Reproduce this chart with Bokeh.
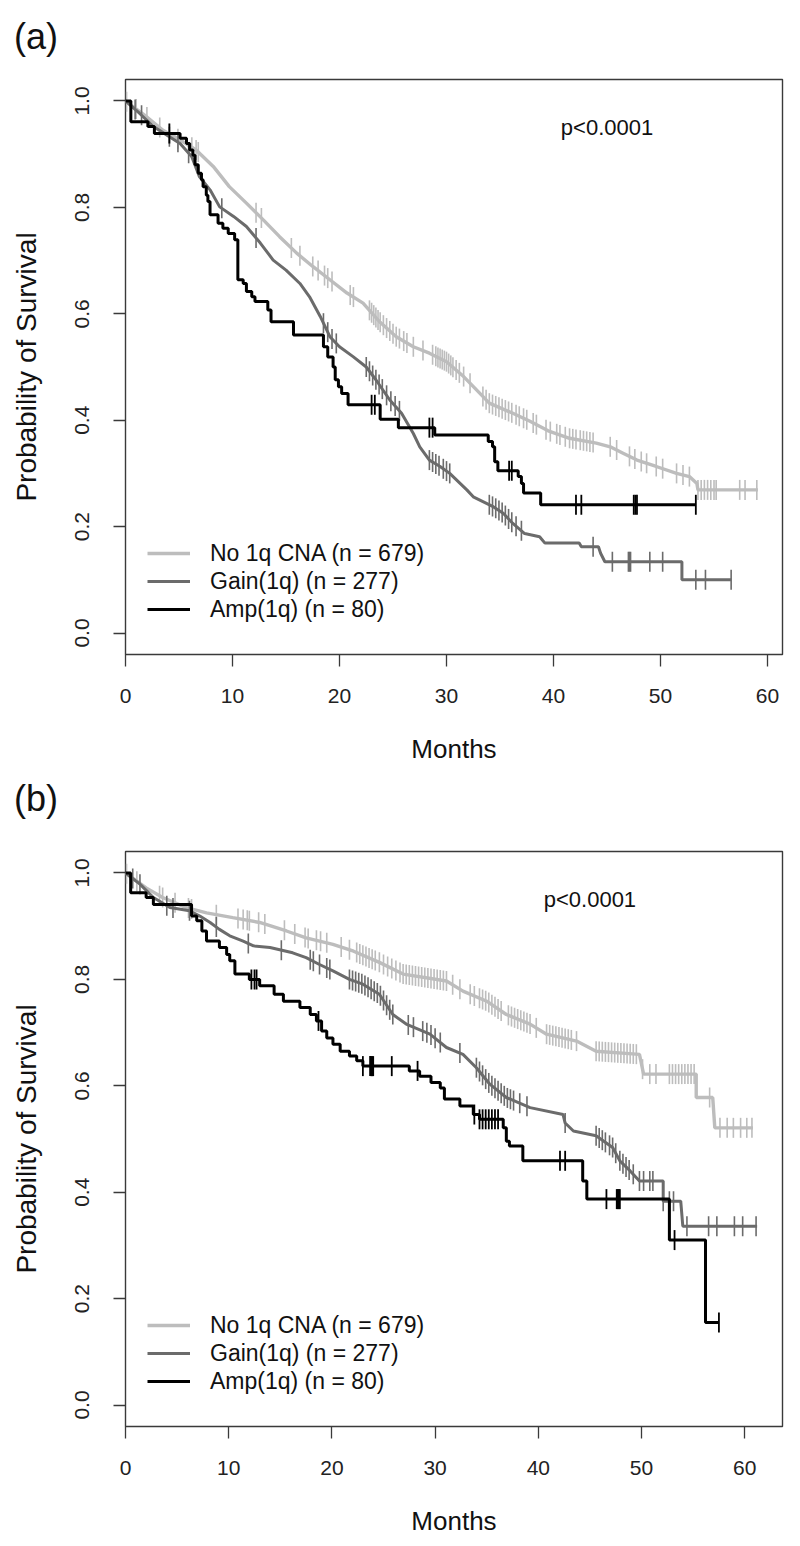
import numpy as np
from bokeh.plotting import figure
from bokeh.models import Range1d, FixedTicker, PrintfTickFormatter, Legend, LegendItem, Label, Div
from bokeh.layouts import column
from bokeh.embed import file_html
from bokeh.resources import INLINE

FONT = "Liberation Sans"
LIGHT = "#bdbdbd"
DARK = "#6b6b6b"
BLACK = "#000000"
BOX = "#3a3a3a"

series_labels = ["No 1q CNA (n = 679)", "Gain(1q) (n = 277)", "Amp(1q) (n = 80)"]
x_ticks = [0, 10, 20, 30, 40, 50, 60]
y_ticks = [0.0, 0.2, 0.4, 0.6, 0.8, 1.0]
p_text = "p<0.0001"
panel_tags = ["(a)", "(b)"]

# ---------------- panel (a) ----------------
a_light_t = [0, 2.0, 3.5, 5.1, 6.6, 8.2, 9.7, 11.3, 12.9, 14.4, 16.0, 17.5, 19.1, 20.7, 22.2, 23.8,
             25.3, 26.9, 28.4, 30.0, 31.6, 33.1, 34.0, 36.2, 37.8, 39.5, 41.5, 44.0, 45.3, 46.5,
             47.8, 49.6, 51.5, 52.7, 53.4, 53.5, 59.1]
a_light_s = [1.0, 0.970, 0.945, 0.927, 0.908, 0.877, 0.839, 0.808, 0.776, 0.745, 0.714, 0.689, 0.664,
             0.639, 0.620, 0.584, 0.557, 0.538, 0.526, 0.510, 0.482, 0.451, 0.432, 0.413, 0.398, 0.380,
             0.366, 0.357, 0.350, 0.338, 0.325, 0.313, 0.300, 0.294, 0.281, 0.269, 0.269]
a_light_cens = [0.1, 1.0, 2.0, 3.2, 4.1, 4.9, 6.2, 6.6, 6.8, 12.2, 12.7, 15.5, 16.3, 17.5, 18.0, 18.6,
                18.9, 19.3, 21.0, 21.3, 22.8, 23.0, 23.2, 23.4, 23.6, 23.8, 24.1, 24.4, 24.7, 25.0,
                25.3, 25.6, 26.0, 26.3, 26.9, 27.8, 28.7, 29.0, 29.2, 29.4, 29.6, 29.8, 30.0, 30.2,
                30.4, 30.6, 30.9, 31.2, 31.6, 32.2, 33.4, 33.7, 34.0, 34.3, 34.6, 34.9, 35.2, 35.5,
                35.8, 36.1, 36.5, 36.8, 37.2, 37.5, 38.1, 38.4, 39.3, 39.7, 40.3, 40.6, 41.1, 41.5,
                41.8, 42.1, 42.5, 42.8, 43.1, 43.4, 43.7, 45.3, 45.9, 47.1, 47.6, 48.2, 48.7, 49.6,
                50.2, 51.5, 52.1, 52.7, 53.5, 53.8, 54.1, 54.4, 54.7, 55.0, 55.2, 57.4, 57.9, 59.0]

a_dark_t = [0, 1.3, 2.6, 4.1, 5.1, 6.2, 6.9, 7.9, 8.8, 10.1, 11.3, 12.6, 13.8, 15.0, 16.3, 17.2, 18.2,
            19.1, 20.0, 21.3, 22.5, 23.4, 24.7, 25.8, 26.9, 27.5, 28.4, 29.4, 30.3, 31.9, 32.5, 34.4,
            35.3, 36.2, 37.3, 38.7, 39.2, 42.4, 42.6, 44.2, 44.4, 44.8, 52.0, 52.0, 56.6]
a_dark_s = [1.0, 0.977, 0.952, 0.933, 0.920, 0.895, 0.858, 0.833, 0.801, 0.783, 0.764, 0.733, 0.701,
            0.682, 0.657, 0.632, 0.595, 0.557, 0.538, 0.519, 0.500, 0.476, 0.438, 0.413, 0.375, 0.350,
            0.325, 0.313, 0.300, 0.269, 0.256, 0.237, 0.225, 0.206, 0.187, 0.181, 0.169, 0.169, 0.162,
            0.162, 0.150, 0.134, 0.134, 0.100, 0.100]
a_dark_cens = [0.9, 1.5, 4.1, 4.9, 5.9, 9.0, 12.2, 18.5, 18.9, 19.3, 19.7, 22.5, 22.8, 23.1, 23.4,
               23.7, 24.0, 24.4, 24.8, 25.2, 25.6, 28.4, 28.7, 29.0, 29.3, 29.7, 30.0, 30.3, 34.0,
               34.3, 34.6, 34.9, 35.2, 35.5, 35.8, 36.1, 36.5, 37.0, 43.7, 45.5, 47.0, 47.1, 47.2,
               49.0, 50.2, 53.3, 54.2, 56.6]

a_amp_t = [0, 0.5, 2.1, 2.7, 5.1, 5.7, 6.0, 6.3, 6.5, 6.8, 7.1, 7.25, 7.55, 7.7, 7.9, 8.65, 9.1, 9.6,
           10.2, 10.5, 11.0, 11.3, 11.8, 12.1, 13.3, 13.6, 15.7, 18.5, 18.9, 19.4, 19.6, 19.9, 20.2,
           20.8, 23.8, 25.5, 28.9, 33.9, 34.3, 34.5, 34.8, 36.7, 37.0, 37.2, 38.8, 53.3]
a_amp_s = [1.0, 0.961, 0.952, 0.939, 0.930, 0.920, 0.908, 0.898, 0.880, 0.864, 0.852, 0.839, 0.823,
           0.811, 0.786, 0.770, 0.761, 0.751, 0.739, 0.664, 0.657, 0.642, 0.632, 0.623, 0.607, 0.585,
           0.560, 0.538, 0.519, 0.500, 0.476, 0.463, 0.450, 0.429, 0.402, 0.386, 0.372, 0.360, 0.350,
           0.322, 0.305, 0.294, 0.281, 0.263, 0.241, 0.241]
a_amp_cens = [4.1, 23.0, 23.3, 28.4, 28.7, 35.85, 36.1, 42.1, 42.6, 47.5, 47.65, 47.8, 53.3]

# ---------------- panel (b) ----------------
b_light_t = [0, 2.0, 3.6, 5.9, 7.85, 10.4, 13.0, 15.6, 17.5, 20.1, 22.1, 24.6, 26.9, 31.1, 32.7, 35.0,
             36.9, 39.2, 40.8, 43.7, 45.6, 49.8, 50.2, 55.3, 55.3, 56.9, 57.1, 60.8]
b_light_s = [1.0, 0.972, 0.954, 0.935, 0.925, 0.916, 0.907, 0.891, 0.878, 0.866, 0.853, 0.832, 0.810,
             0.797, 0.778, 0.759, 0.734, 0.716, 0.697, 0.684, 0.665, 0.659, 0.622, 0.622, 0.578, 0.578,
             0.521, 0.521]
b_light_cens = [0.1, 1.1, 3.3, 3.6, 4.8, 6.1, 6.4, 8.8, 10.9, 11.4, 11.8, 12.0, 12.9, 13.5, 15.4, 16.4,
                17.4, 17.7, 18.5, 18.9, 19.5, 20.9, 21.7, 22.4, 22.7, 23.0, 23.3, 23.6, 23.9, 24.2,
                24.6, 25.0, 25.4, 25.8, 26.2, 26.6, 26.9, 27.2, 27.5, 27.8, 28.1, 28.4, 28.7, 29.0,
                29.3, 29.6, 29.9, 30.2, 30.5, 30.8, 31.1, 31.7, 32.4, 33.4, 33.8, 34.3, 34.6, 34.9,
                35.2, 35.5, 35.8, 36.1, 36.4, 37.1, 37.4, 37.7, 38.0, 38.3, 38.6, 38.9, 39.2, 39.8,
                40.8, 41.1, 41.4, 41.7, 42.0, 42.3, 42.6, 42.9, 43.2, 43.7, 45.6, 45.9, 46.2, 46.5,
                46.8, 47.1, 47.4, 47.7, 48.0, 48.3, 48.6, 48.9, 49.2, 49.5, 50.1, 50.8, 51.4, 52.7,
                53.0, 53.3, 53.6, 53.9, 54.2, 54.5, 54.8, 55.1, 56.6, 57.6, 58.3, 58.9, 59.6, 60.2, 60.7]

b_dark_t = [0, 1.4, 2.7, 4.3, 6.2, 7.2, 8.2, 9.1, 10.1, 11.4, 12.4, 14.0, 16.2, 17.5, 18.8, 20.1, 21.7,
            23.0, 24.6, 25.9, 27.2, 29.5, 31.1, 32.7, 34.0, 35.3, 36.9, 39.2, 42.4, 42.6, 43.4, 45.6,
            47.2, 47.9, 48.9, 49.8, 52.1, 52.1, 53.8, 54.0, 61.2]
b_dark_s = [1.0, 0.979, 0.954, 0.935, 0.929, 0.919, 0.907, 0.894, 0.882, 0.872, 0.863, 0.860, 0.850,
            0.841, 0.828, 0.816, 0.800, 0.791, 0.772, 0.734, 0.716, 0.697, 0.672, 0.659, 0.634, 0.603,
            0.578, 0.559, 0.546, 0.530, 0.515, 0.506, 0.484, 0.459, 0.440, 0.421, 0.421, 0.383, 0.383,
            0.336, 0.336]
b_dark_cens = [0.7, 1.4, 4.0, 4.6, 6.2, 8.8, 11.9, 15.1, 17.9, 18.2, 18.8, 19.5, 19.8, 21.7, 22.0,
               22.3, 22.6, 22.9, 23.2, 23.5, 23.8, 24.1, 24.4, 24.7, 25.0, 25.3, 25.6, 25.9, 27.4,
               27.9, 28.8, 29.2, 29.6, 30.0, 30.5, 32.4, 34.0, 34.3, 34.6, 34.9, 35.2, 35.5, 35.8,
               36.1, 36.4, 36.7, 37.0, 37.3, 37.6, 38.2, 38.9, 42.6, 45.6, 45.9, 46.2, 46.5, 46.9,
               47.2, 47.5, 47.9, 48.2, 48.5, 48.8, 49.2, 49.8, 50.2, 50.8, 51.1, 52.1, 52.7, 53.1,
               54.4, 56.5, 57.3, 59.0, 59.8, 61.1]

b_amp_t = [0, 0.5, 2.0, 2.7, 6.4, 6.9, 7.4, 7.85, 9.1, 9.8, 10.1, 10.6, 12.0, 13.0, 14.4, 15.3, 16.9,
           17.9, 18.5, 19.0, 19.5, 20.1, 20.8, 21.7, 22.4, 23.0, 27.5, 28.5, 29.6, 30.5, 30.9, 32.4,
           33.7, 34.3, 36.6, 36.9, 37.2, 38.5, 44.3, 44.7, 52.7, 56.2, 57.5]
b_amp_s = [1.0, 0.963, 0.954, 0.941, 0.919, 0.910, 0.891, 0.872, 0.860, 0.847, 0.835, 0.810, 0.800,
           0.788, 0.772, 0.759, 0.747, 0.734, 0.722, 0.703, 0.690, 0.678, 0.665, 0.656, 0.647, 0.637,
           0.628, 0.618, 0.606, 0.596, 0.575, 0.562, 0.546, 0.537, 0.521, 0.496, 0.487, 0.459, 0.421,
           0.387, 0.310, 0.155, 0.155]
b_amp_cens = [12.2, 12.5, 12.7, 18.7, 23.0, 23.7, 23.8, 23.9, 24.0, 25.8, 28.3, 33.8, 34.3, 34.6, 34.9,
              35.2, 35.5, 35.8, 36.1, 42.1, 42.6, 46.6, 47.6, 47.7, 47.8, 47.9, 53.2, 57.5]


def step_value(t, s, c):
    t = np.asarray(t); s = np.asarray(s)
    idx = np.searchsorted(t, c, side="right") - 1
    return s[np.clip(idx, 0, len(s) - 1)]


def make_panel(xmax, light, dark, amp, border_top, border_bottom, height):
    p = figure(width=800, height=height, x_range=Range1d(0, xmax), y_range=Range1d(-0.0404, 1.0404),
               output_backend="svg", toolbar_location=None, margin=0,
               min_border_left=125, min_border_right=18,
               min_border_top=border_top, min_border_bottom=border_bottom)
    p.xgrid.visible = False
    p.ygrid.visible = False
    p.outline_line_color = BOX
    p.outline_line_width = 1.4
    p.background_fill_color = "white"
    p.border_fill_color = "white"

    for ax in (p.xaxis[0], p.yaxis[0]):
        ax.axis_line_color = None
        ax.major_tick_line_color = BOX
        ax.major_tick_line_width = 1.3
        ax.major_tick_out = 12
        ax.major_tick_in = 0
        ax.minor_tick_line_color = None
        ax.major_label_text_font = FONT
        ax.major_label_text_font_size = "21px"
        ax.major_label_text_color = "#222222"
        ax.axis_label_text_font = FONT
        ax.axis_label_text_font_style = "normal"
        ax.axis_label_text_color = "#111111"
    p.xaxis.ticker = FixedTicker(ticks=x_ticks)
    p.yaxis.ticker = FixedTicker(ticks=y_ticks)
    p.yaxis.formatter = PrintfTickFormatter(format="%.1f")
    p.yaxis.major_label_orientation = "vertical"
    p.xaxis.major_label_standoff = 22
    p.yaxis.major_label_standoff = 24
    p.xaxis.axis_label = "Months"
    p.xaxis.axis_label_text_font_size = "26px"
    p.xaxis.axis_label_standoff = 28
    p.yaxis.axis_label = "Probability of Survival"
    p.yaxis.axis_label_text_font_size = "28px"
    p.yaxis.axis_label_standoff = 31

    (lt, ls, lc), (dt, ds, dc), (at, as_, ac) = light, dark, amp
    r_light = p.line(lt, ls, line_color=LIGHT, line_width=3.4)
    p.scatter(lc, np.interp(lc, lt, ls), marker="dash", angle=np.pi / 2, size=20,
              line_color=LIGHT, line_width=1.6)
    r_dark = p.line(dt, ds, line_color=DARK, line_width=3.0)
    p.scatter(dc, np.interp(dc, dt, ds), marker="dash", angle=np.pi / 2, size=20,
              line_color=DARK, line_width=1.6)
    r_amp = p.step(at, as_, mode="after", line_color=BLACK, line_width=3.0)
    p.scatter(ac, step_value(at, as_, ac), marker="dash", angle=np.pi / 2, size=20,
              line_color=BLACK, line_width=1.8)

    legend = Legend(items=[LegendItem(label=series_labels[0], renderers=[r_light]),
                           LegendItem(label=series_labels[1], renderers=[r_dark]),
                           LegendItem(label=series_labels[2], renderers=[r_amp])],
                    location=(22, 31), padding=0, margin=0, spacing=0,
                    glyph_width=43, glyph_height=28, label_height=28, label_standoff=20,
                    label_text_font=FONT, label_text_font_size="23px", label_text_color="#111111",
                    border_line_color=None, background_fill_alpha=0)
    p.add_layout(legend)

    p.add_layout(Label(x=45, y=0.95, text=p_text, text_align="center", text_baseline="middle",
                       text_font=FONT, text_font_size="22px", text_color="#111111"))
    return p


def make_tag(text, pad_top, height):
    html = ('<div style="font-family: \'Liberation Sans\', Arial, sans-serif; font-size: 36px; '
            'line-height: 40px; color: #111111; padding: %dpx 0 0 14px; margin: 0;">%s</div>'
            % (pad_top, text))
    return Div(text=html, width=800, height=height, margin=0)


tag_a = make_tag(panel_tags[0], 17, 60)
pa = make_panel(61.4,
                (a_light_t, a_light_s, a_light_cens),
                (a_dark_t, a_dark_s, a_dark_cens),
                (a_amp_t, a_amp_s, a_amp_cens), 19, 119, 713)
tag_b = make_tag(panel_tags[1], 6, 60)
pb = make_panel(63.66,
                (b_light_t, b_light_s, b_light_cens),
                (b_dark_t, b_dark_s, b_dark_cens),
                (b_amp_t, b_amp_s, b_amp_cens), 18, 120, 713)

layout = column(tag_a, pa, tag_b, pb, spacing=0, margin=0)
open("out.html", "w").write(file_html(layout, INLINE))
